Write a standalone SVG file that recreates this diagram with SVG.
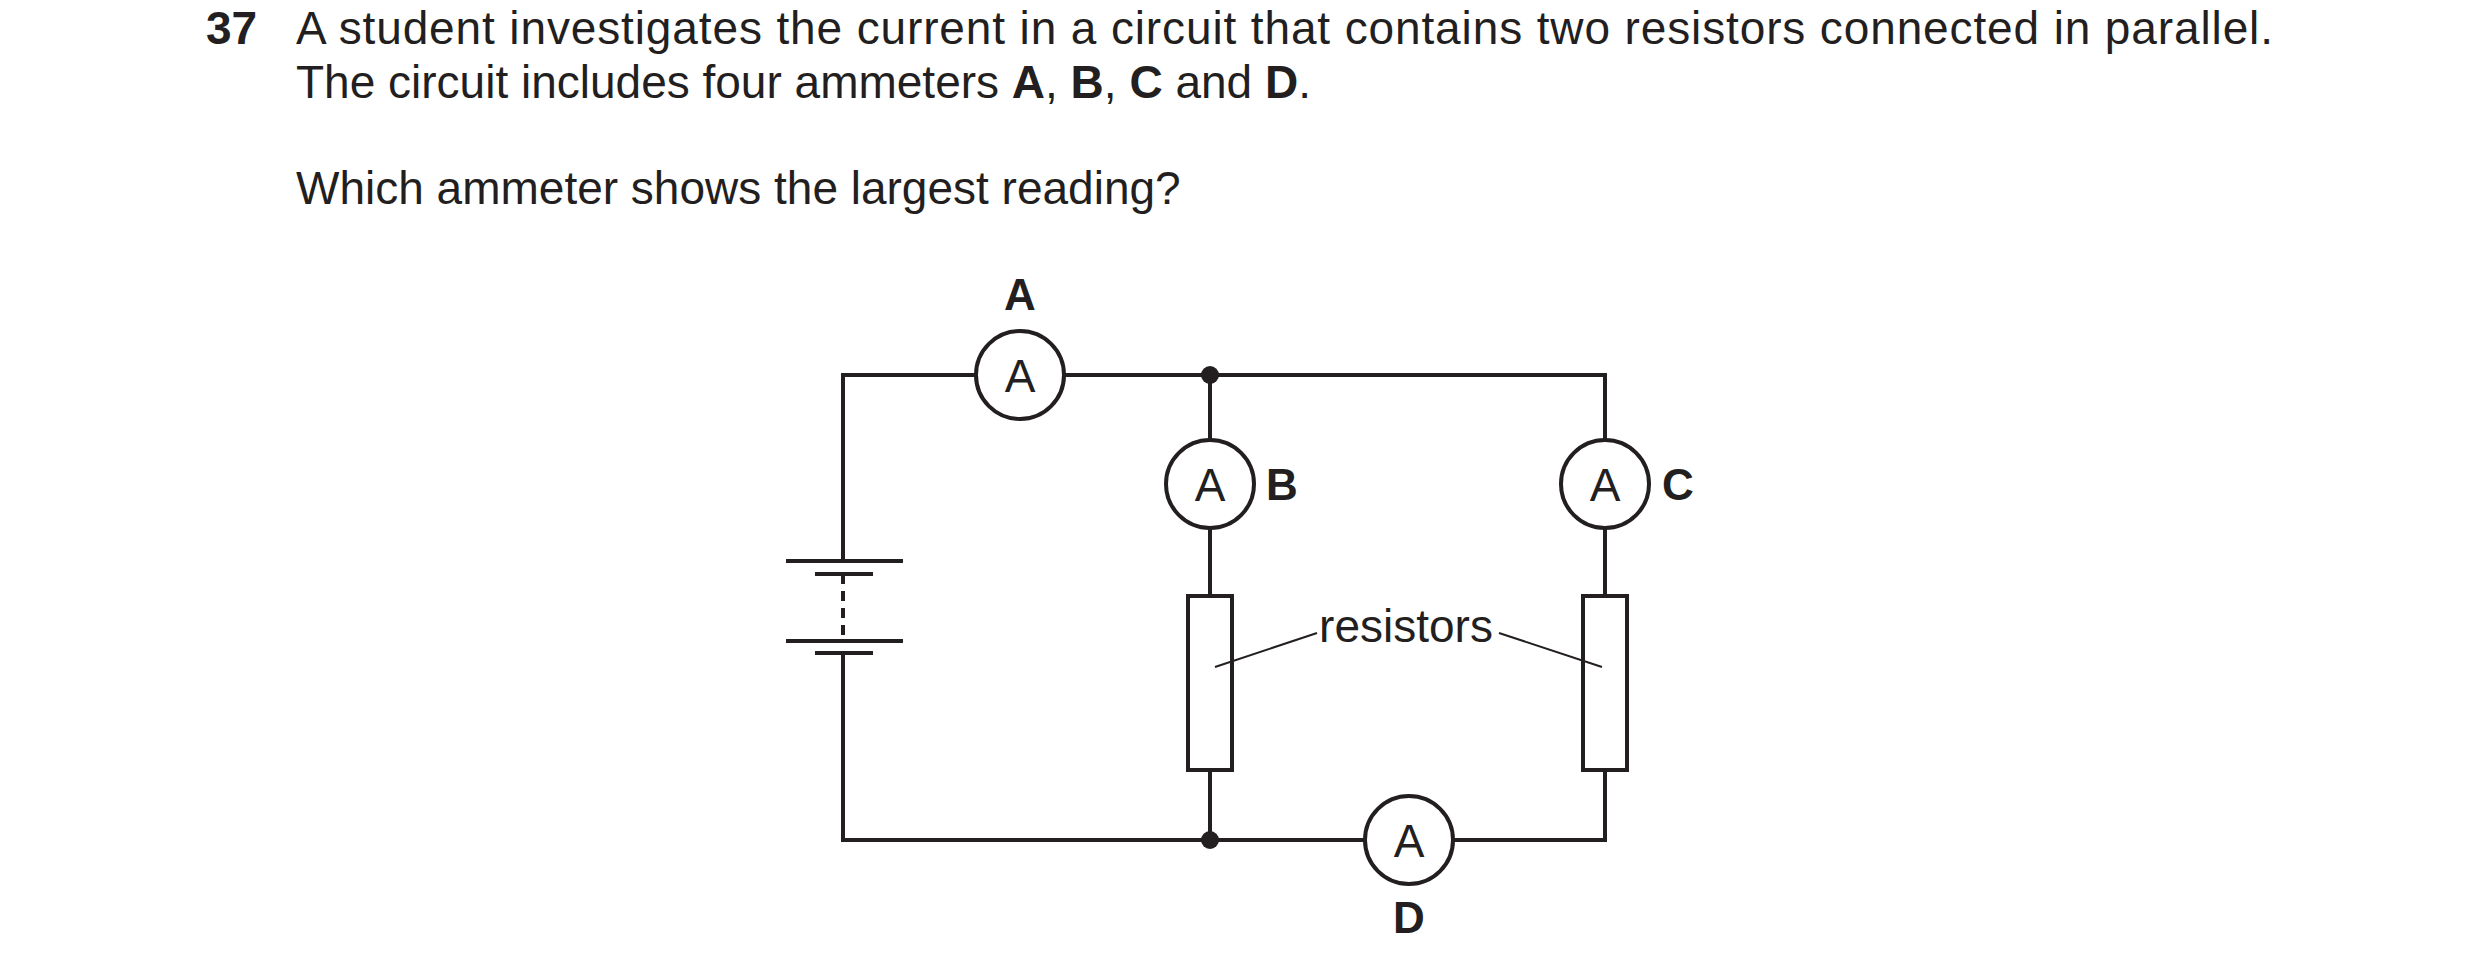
<svg xmlns="http://www.w3.org/2000/svg" width="2480" height="972" viewBox="0 0 2480 972">
<style>
text{font-family:"Liberation Sans",Arial,sans-serif;fill:#231f20}
.q{font-size:46px}
.b{font-weight:bold}
.lbl{font-size:44px;font-weight:bold;text-anchor:middle}
.m{font-size:46px;text-anchor:middle}
.w{stroke:#231f20;stroke-width:4;fill:none}
.t{stroke:#231f20;stroke-width:2;fill:none}
</style>
<rect width="2480" height="972" fill="#fff"/>
<g id="question">
<text class="q b" x="206" y="44">37</text>
<text class="q" x="296" y="44" textLength="1977" lengthAdjust="spacing">A student investigates the current in a circuit that contains two resistors connected in parallel.</text>
<text class="q" x="296" y="98">The circuit includes four ammeters <tspan class="b">A</tspan>, <tspan class="b">B</tspan>, <tspan class="b">C</tspan> and <tspan class="b">D</tspan>.</text>
<text class="q" x="296" y="204">Which ammeter shows the largest reading?</text>
</g>
<g id="connectors">
<path class="w" d="M976,375 H843 V561 M843,653 V840 H1365 M1453,840 H1605 V770 M1605,596 V528 M1605,440 V375 H1064"/>
<path class="w" d="M1210,375 V440 M1210,528 V596 M1210,770 V840"/>
<path class="w" d="M786,561 H903 M815,574 H873 M786,641 H903 M815,653 H873"/>
<path class="w" d="M843,574 V641" stroke-dasharray="10,7"/>
<circle cx="1210" cy="375" r="9" fill="#231f20"/>
<circle cx="1210" cy="840" r="9" fill="#231f20"/>
<path class="t" d="M1215,667 L1317,633 M1499,633 L1602,667"/>
</g>
<g id="ammeterA"><circle class="w" cx="1020" cy="375" r="44"/><text class="m" x="1020" y="392">A</text><text class="lbl" x="1020" y="310">A</text></g>
<g id="ammeterB"><circle class="w" cx="1210" cy="484" r="44"/><text class="m" x="1210" y="501">A</text><text class="lbl" x="1282" y="500">B</text></g>
<g id="ammeterC"><circle class="w" cx="1605" cy="484" r="44"/><text class="m" x="1605" y="501">A</text><text class="lbl" x="1678" y="500">C</text></g>
<g id="ammeterD"><circle class="w" cx="1409" cy="840" r="44"/><text class="m" x="1409" y="857">A</text><text class="lbl" x="1409" y="933">D</text></g>
<g id="resistor1"><rect class="w" x="1188" y="596" width="44" height="174"/></g>
<g id="resistor2"><rect class="w" x="1583" y="596" width="44" height="174"/></g>
<text class="q" x="1406" y="642" text-anchor="middle">resistors</text>
</svg>
